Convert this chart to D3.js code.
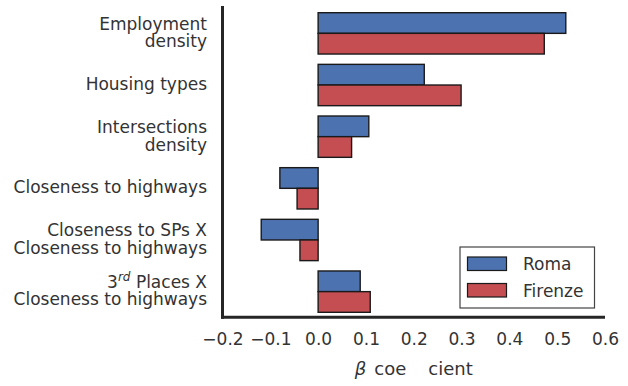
<!DOCTYPE html>
<html>
<head>
<meta charset="utf-8">
<script src="https://cdn.jsdelivr.net/npm/d3@7"></script>
<style>
  html, body { margin: 0; padding: 0; background: #fff; }
  svg { display: block; }
  text { font-family: "DejaVu Sans", sans-serif; fill: #333; }
</style>
</head>
<body>
<svg id="chart" width="628" height="386"></svg>
<script>
// ---- data ----
const categories = [
  ["Employment", "density"],
  ["Housing types"],
  ["Intersections", "density"],
  ["Closeness to highways"],
  ["Closeness to SPs X", "Closeness to highways"],
  ["3rd Places X", "Closeness to highways"]
];
const seriesNames = ["Roma", "Firenze"];
const roma    = [0.518, 0.222, 0.106, -0.080, -0.119, 0.088];
const firenze = [0.473, 0.299, 0.070, -0.044, -0.038, 0.109];
const xTicks = [-0.2, -0.1, 0.0, 0.1, 0.2, 0.3, 0.4, 0.5, 0.6];
const colors = ["#4c72b0", "#c44e52"];

// ---- layout ----
const svg = d3.select("#chart");
const axLeft = 222.5, axRight = 605, axTop = 6, axBottom = 317.2;

const x = d3.scaleLinear().domain([-0.2, 0.6]).range([axLeft, axRight]);
const catIdx = categories.map((d, i) => i);
const y = d3.scaleBand().domain(catIdx).range([12.7, 312.3]).paddingInner(0.2).paddingOuter(0);
const ySub = d3.scaleBand().domain(seriesNames).range([0, y.bandwidth()]);

const values = [roma, firenze];
const rows = [];
catIdx.forEach(i => seriesNames.forEach((s, j) => rows.push({ cat: i, series: s, j, v: values[j][i] })));

// bars
svg.append("g").selectAll("rect").data(rows).join("rect")
  .attr("x", d => x(Math.min(0, d.v)))
  .attr("width", d => Math.abs(x(d.v) - x(0)))
  .attr("y", d => y(d.cat) + ySub(d.series))
  .attr("height", ySub.bandwidth())
  .attr("fill", d => colors[d.j])
  .attr("stroke", "#1a1a1a")
  .attr("stroke-width", 1.4);

// spines
svg.append("line").attr("x1", axLeft).attr("x2", axLeft).attr("y1", axTop).attr("y2", axBottom + 1.5)
  .attr("stroke", "#262626").attr("stroke-width", 3);
svg.append("line").attr("x1", axLeft - 1.5).attr("x2", axRight).attr("y1", axBottom).attr("y2", axBottom)
  .attr("stroke", "#262626").attr("stroke-width", 3);

// x axis tick labels
const xAxis = d3.axisBottom(x).tickValues(xTicks).tickSize(0).tickPadding(0)
  .tickFormat(d => d3.format(".1f")(d).replace("-", "\u2212"));
const gx = svg.append("g").attr("transform", `translate(0,${axBottom})`).call(xAxis);
gx.select(".domain").remove();
gx.selectAll("text").attr("y", 28).attr("dy", null)
  .style("font-family", "DejaVu Sans").style("font-size", "17px").attr("fill", "#333");

// x axis label
const xl = svg.append("text")
  .attr("x", (axLeft + axRight) / 2).attr("y", 375)
  .attr("text-anchor", "middle").style("font-size", "18px");
xl.append("tspan").style("font-style", "italic").text("\u03B2");
xl.append("tspan").attr("dx", 8).text("coe");
xl.append("tspan").attr("dx", 22).text("cient");

// y category labels
const lineH = 17.7;
const labels = svg.append("g");
categories.forEach((lines, i) => {
  const cy = y(i) + y.bandwidth() / 2;
  lines.forEach((ln, k) => {
    const base = cy + 5 + (k - (lines.length - 1) / 2) * lineH;
    const t = labels.append("text").attr("x", 207).attr("y", base)
      .attr("text-anchor", "end").style("font-size", "17px");
    if (ln.startsWith("3rd")) {
      t.append("tspan").text("3");
      t.append("tspan").attr("dy", -7).style("font-size", "12px").style("font-style", "italic").text("rd");
      t.append("tspan").attr("dy", 7).text(" " + ln.slice(4));
    } else {
      t.text(ln);
    }
  });
});

// legend
const lg = svg.append("g");
lg.append("rect").attr("x", 460).attr("y", 247).attr("width", 134.5).attr("height", 61)
  .attr("fill", "#fff").attr("stroke", "#444").attr("stroke-width", 1.2);
seriesNames.forEach((s, j) => {
  const yy = 257 + j * 26.5;
  lg.append("rect").attr("x", 467.5).attr("y", yy).attr("width", 39).attr("height", 13.5)
    .attr("fill", colors[j]).attr("stroke", "#1a1a1a").attr("stroke-width", 1.2);
  lg.append("text").attr("x", 523).attr("y", yy + 13).style("font-size", "17px").text(s);
});
</script>
</body>
</html>
